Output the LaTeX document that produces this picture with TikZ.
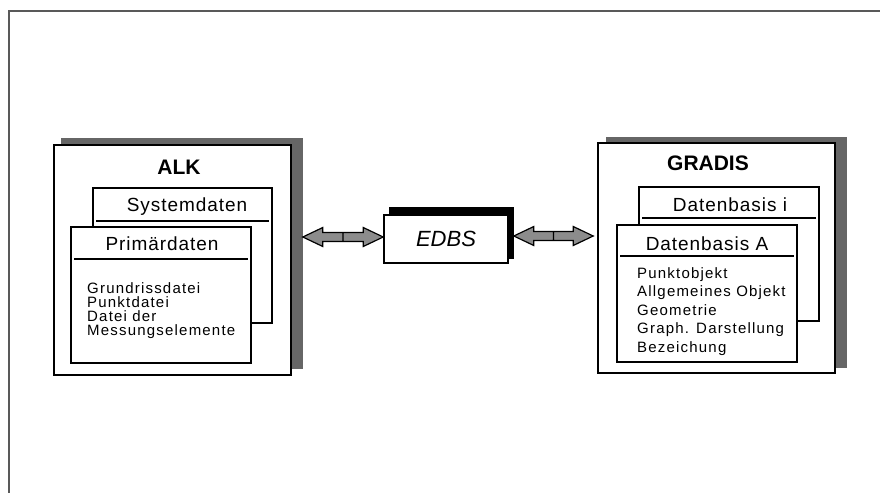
\documentclass[tikz,border=0pt]{standalone}
\usepackage{fontspec}
\setmainfont{Liberation Sans}
\newfontfamily\headfont[LetterSpace=5]{Liberation Sans}
\newfontfamily\listfont[LetterSpace=8]{Liberation Sans}
\usetikzlibrary{calc,backgrounds}
\newcommand{\shadecolor}{black!60}
\newcommand{\boxline}{1.6pt}

\begin{document}
\begin{tikzpicture}[x=1pt,y=-1pt,
  box/.style={draw, fill=white, line width=\boxline, inner sep=0pt},
  title/.style={font=\bfseries\fontsize{21}{24}\selectfont},
  head/.style={font=\headfont\fontsize{19}{20}\selectfont, inner sep=0pt},
  list/.style={font=\listfont\fontsize{15}{14}\selectfont, align=left, inner sep=0pt, anchor=north west},
  fatarrow/.style={draw, fill=black!45, line width=1.2pt, line join=miter,
    to path={let \p1=(\tikztostart), \p2=(\tikztotarget) in
      (\x1,\y1) -- ++(20pt,9.5pt) -- ++(0,-5pt) -- (\x2-20pt,\y1+4.5pt) -- ++(0,5pt)
      -- (\x2,\y1) -- ++(-20pt,-9.5pt) -- ++(0,5pt) -- (\x1+20pt,\y1-4.5pt) -- ++(0,-5pt) -- cycle
      (\x1*0.5+\x2*0.5,\y1-4.5pt) -- ++(0,9pt)}}]
\useasboundingbox (0,0) rectangle (880,493);
\draw[black!65, line width=1.5pt] (880,11) -- (9,11) -- (9,493);
% ALK
\node[box, minimum width=237, minimum height=230] (alk) at (172.5,260) {};
\node[title] (alktitle) at (179,167) {ALK};
\node[box, minimum width=179, minimum height=135] (sys) at (182.5,255.5) {};
\draw[line width=\boxline] ($(sys.north west)+(4,34)$) -- ($(sys.north east)+(-4,34)$);
\node[head] (systext) at (187,207) {Systemdaten};
\node[box, minimum width=180, minimum height=136] (prim) at (161,295) {};
\draw[line width=\boxline] ($(prim.north west)+(4,33)$) -- ($(prim.north east)+(-4,33)$);
\node[head] (primtext) at (162,244) {Primärdaten};
\node[list] (primlist) at (87,282) {Grundrissdatei\\Punktdatei\\Datei der\\Messungselemente};
% GRADIS
\node[box, minimum width=237, minimum height=230] (gradis) at (716.5,258) {};
\node[title] (gradistitle) at (708,163) {GRADIS};
\node[box, minimum width=180, minimum height=134] (dbi) at (729,254) {};
\draw[line width=\boxline] ($(dbi.north west)+(4,32)$) -- ($(dbi.north east)+(-4,32)$);
\node[head] (dbitext) at (730,205) {Datenbasis i};
\node[box, minimum width=180, minimum height=137] (dba) at (707,293.5) {};
\draw[line width=\boxline] ($(dba.north west)+(4,32)$) -- ($(dba.north east)+(-4,32)$);
\node[head] (dbatext) at (707,244) {Datenbasis A};
\node[list, font=\listfont\fontsize{15}{18.5}\selectfont] (dbalist) at (637,267)
  {Punktobjekt\\Allgemeines Objekt\\Geometrie\\Graph. Darstellung\\Bezeichung};
% EDBS
\node[box, minimum width=124, minimum height=48, font=\itshape\fontsize{22}{24}\selectfont] (edbs) at (446,239) {EDBS};
%shadows
\begin{scope}[on background layer]
\fill[\shadecolor] ($(alk.north west)+(8,-6)$) rectangle ($(alk.south east)+(11,-7)$);
\fill[\shadecolor] ($(gradis.north west)+(9,-5)$) rectangle ($(gradis.south east)+(11,-6)$);
\fill[black] ($(edbs.north west)+(6,-7)$) rectangle ($(edbs.south east)+(5,-5)$);
\end{scope}
% arrows
\coordinate (alkport) at ($(alk.east |- edbs.west)+(11,-2)$);
\coordinate (edbsport) at ($(edbs.east)+(5,-3)$);
\coordinate (gradisport) at ($(gradis.west |- edbs.east)+(-4,-3)$);
\draw[fatarrow] (alkport) to (edbs.west);
\draw[fatarrow] (edbsport) to (gradisport);
\end{tikzpicture}
\end{document}
